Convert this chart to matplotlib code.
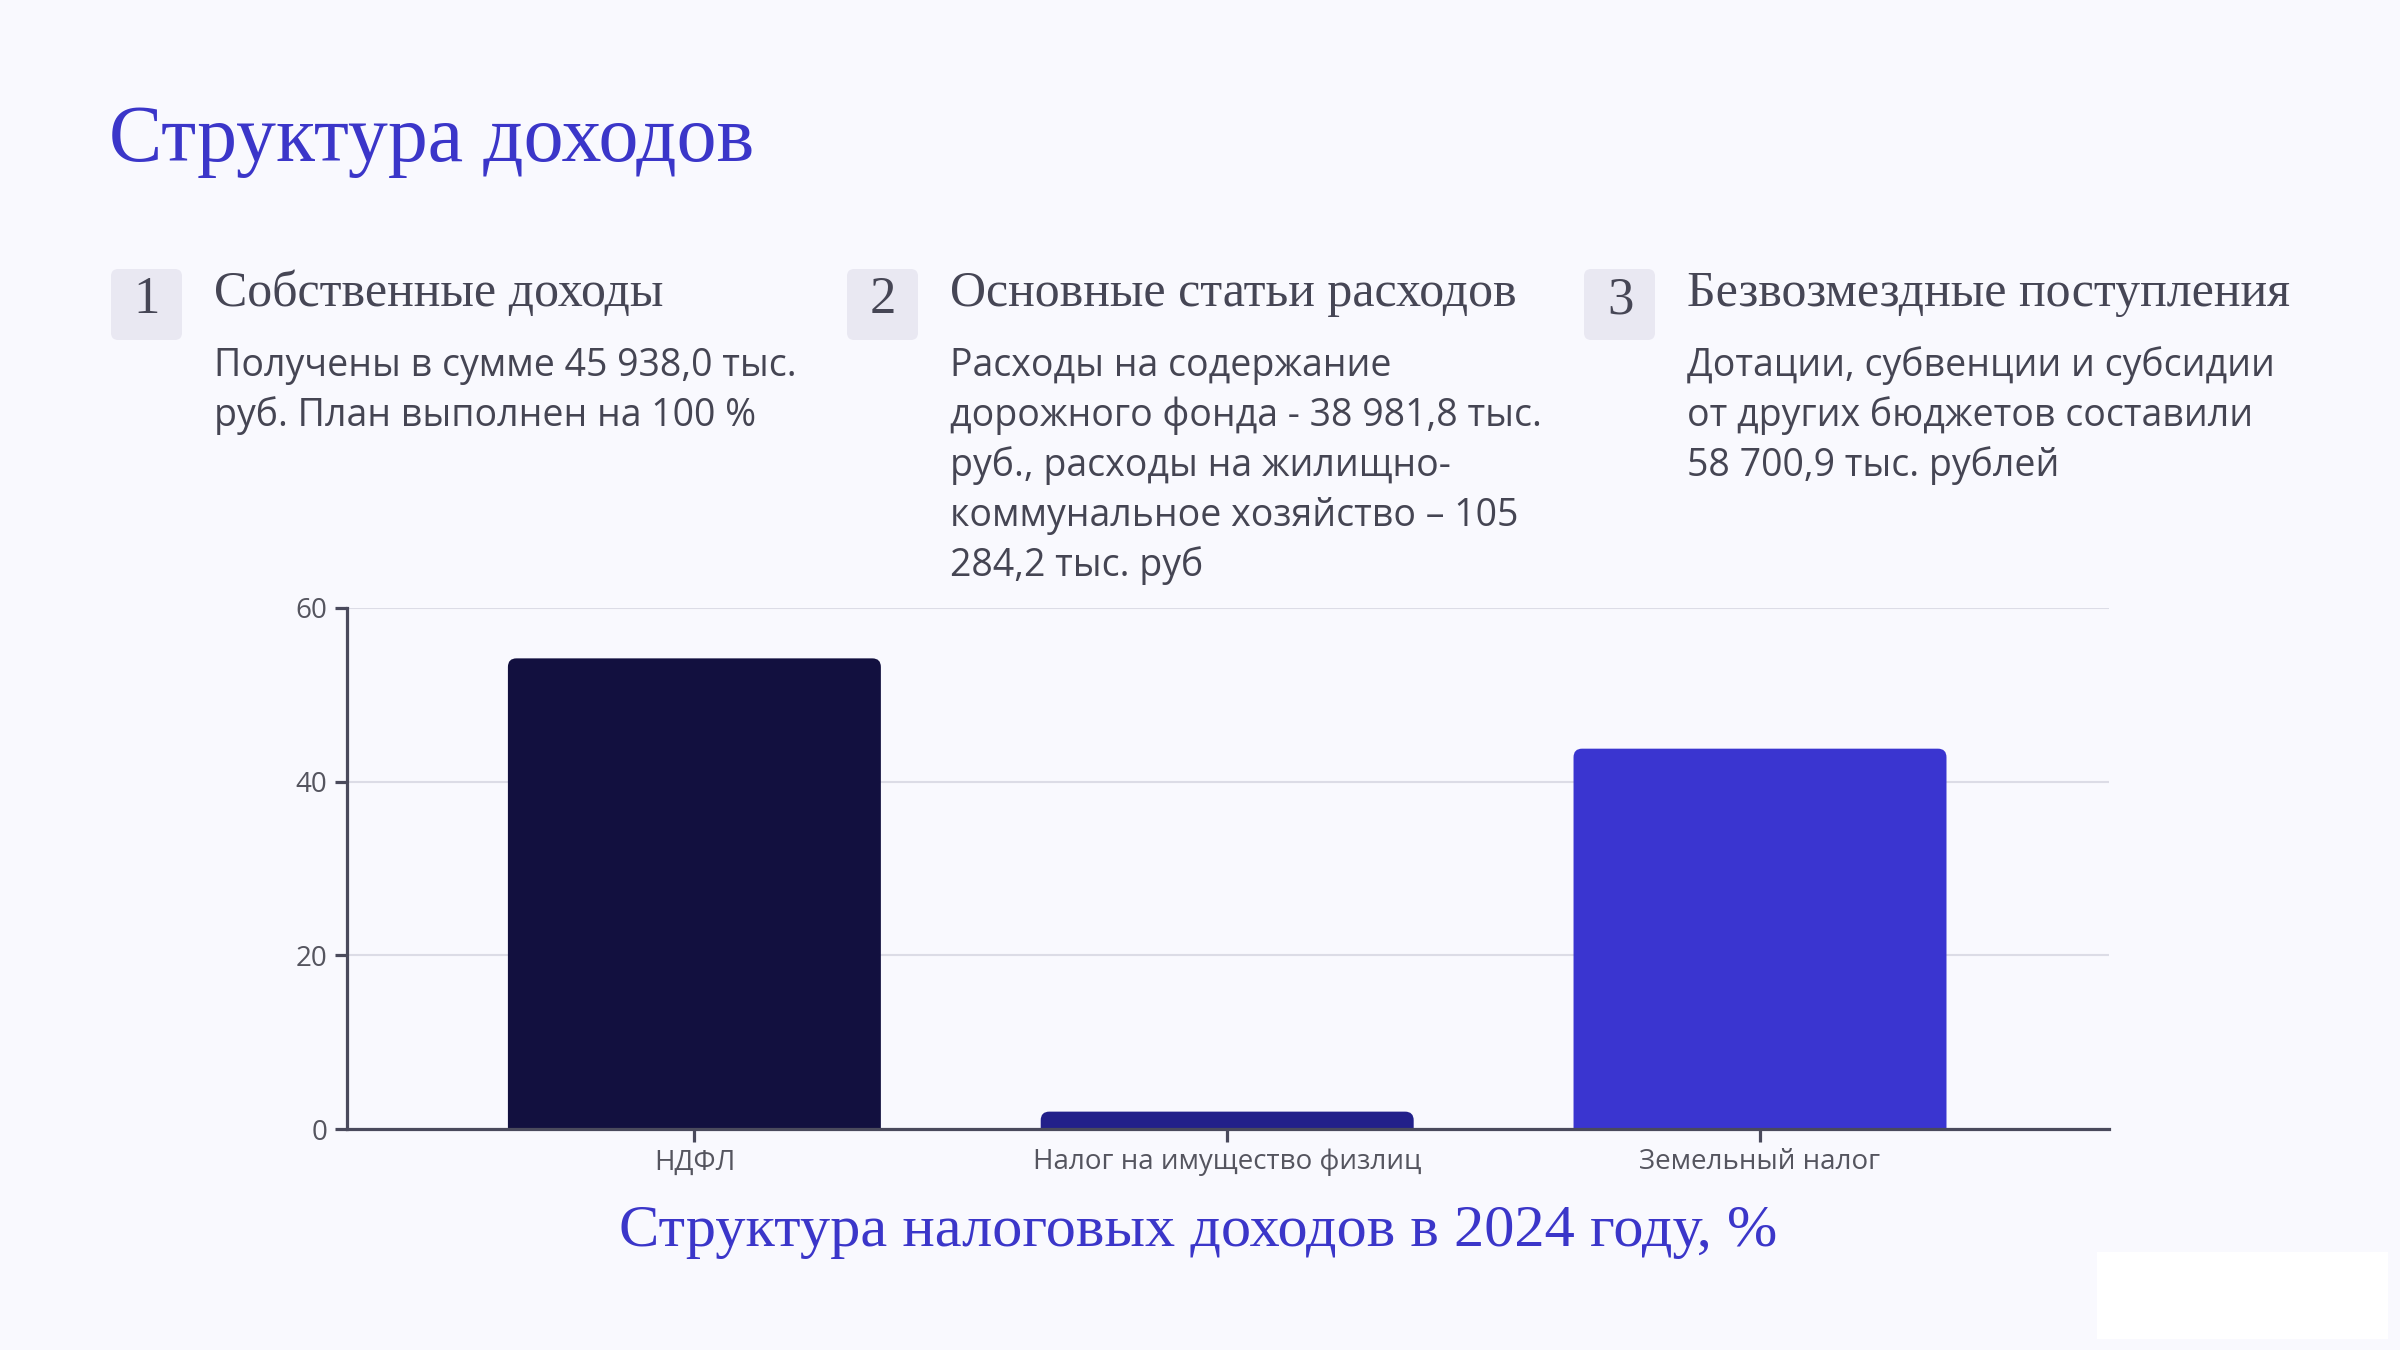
import matplotlib.pyplot as plt
from matplotlib.patches import FancyBboxPatch, Rectangle

# data
categories = ["НДФЛ", "Налог на имущество физлиц", "Земельный налог"]
shares = [54.2, 2.0, 43.8]
bar_colors = ["#12103F", "#22208A", "#3A35D0"]
y_ticks = [0, 20, 40, 60]

title = "Структура доходов"
caption = "Структура налоговых доходов в 2024 году, %"
card_numbers = ["1", "2", "3"]
card_titles = ["Собственные доходы", "Основные статьи расходов", "Безвозмездные поступления"]
card_texts = [
    ["Получены в сумме 45 938,0 тыс.", "руб. План выполнен на 100 %"],
    ["Расходы на содержание", "дорожного фонда - 38 981,8 тыс.",
     "руб., расходы на жилищно-", "коммунальное хозяйство – 105", "284,2 тыс. руб"],
    ["Дотации, субвенции и субсидии", "от других бюджетов составили", "58 700,9 тыс. рублей"],
]

BG = "#F9F9FE"
ACCENT = "#3B36C9"
DARK = "#464655"
W, H = 2400, 1350

fig = plt.figure(figsize=(24, 13.5), dpi=100, facecolor=BG)


def fx(px):
    return px / W


def fy(py):
    return 1 - py / H


# header
fig.text(fx(109), fy(142), title, fontsize=57.5, family="Liberation Serif",
         color=ACCENT, va="center", ha="left")

card_x = [111, 847, 1584]
for i in range(3):
    x0 = card_x[i]
    box = FancyBboxPatch((fx(x0), fy(340)), fx(71), 71 / H,
                         boxstyle="round,pad=0,rounding_size=0.003",
                         transform=fig.transFigure, facecolor="#E9E8F2",
                         edgecolor="none", mutation_aspect=W / H)
    fig.patches.append(box)
    fig.text(fx(x0 + 36), fy(300), card_numbers[i], fontsize=38,
             family="Liberation Serif", color=DARK, ha="center", va="center")
    fig.text(fx(x0 + 103), fy(294), card_titles[i], fontsize=36,
             family="Liberation Serif", color=DARK, ha="left", va="center")
    for j, line in enumerate(card_texts[i]):
        fig.text(fx(x0 + 103), fy(366 + 50 * j), line, fontsize=27,
                 family="Open Sans", color="#454553", ha="left", va="center")

# chart
ax = fig.add_axes([fx(347), fy(1129), fx(2109) - fx(347), (1129 - 608) / H])
ax.set_facecolor(BG)
xs = list(range(len(categories)))
bars = ax.bar(xs, shares, width=0.70, color=bar_colors)

# swap plain bars for rounded ones
for b, c in zip(bars, bar_colors):
    b.set_visible(False)
    rb = FancyBboxPatch((b.get_x(), -1.5), b.get_width(), b.get_height() + 1.5,
                        boxstyle="round,pad=0,rounding_size=0.016",
                        mutation_aspect=62, facecolor=c, edgecolor="none",
                        clip_on=True, zorder=3)
    ax.add_patch(rb)

ax.set_xlim(-0.652, 2.655)
ax.set_ylim(0, 60)
ax.set_yticks(y_ticks)
ax.set_xticks(xs)
ax.set_xticklabels(categories)
ax.grid(axis="y", color="#DCDCE6", linewidth=1.5)
ax.set_axisbelow(True)

for s in ["top", "right"]:
    ax.spines[s].set_visible(False)
for s in ["left", "bottom"]:
    ax.spines[s].set_color("#4A4A5C")
    ax.spines[s].set_linewidth(2.3)
    ax.spines[s].set_zorder(4)

ax.tick_params(axis="both", length=9, width=2.3, color="#4A4A5C",
               labelcolor="#55555F", labelsize=20, pad=5)
for lab in ax.get_xticklabels() + ax.get_yticklabels():
    lab.set_family("Open Sans")

fig.text(fx(1198), fy(1232), caption, fontsize=43.5, family="Liberation Serif",
         color=ACCENT, ha="center", va="center")

# white patch bottom right
fig.patches.append(Rectangle((fx(2097), fy(1339)), fx(291), 87 / H,
                             transform=fig.transFigure, facecolor="white",
                             edgecolor="none"))

fig.savefig("out.png", dpi=100, facecolor=BG)
